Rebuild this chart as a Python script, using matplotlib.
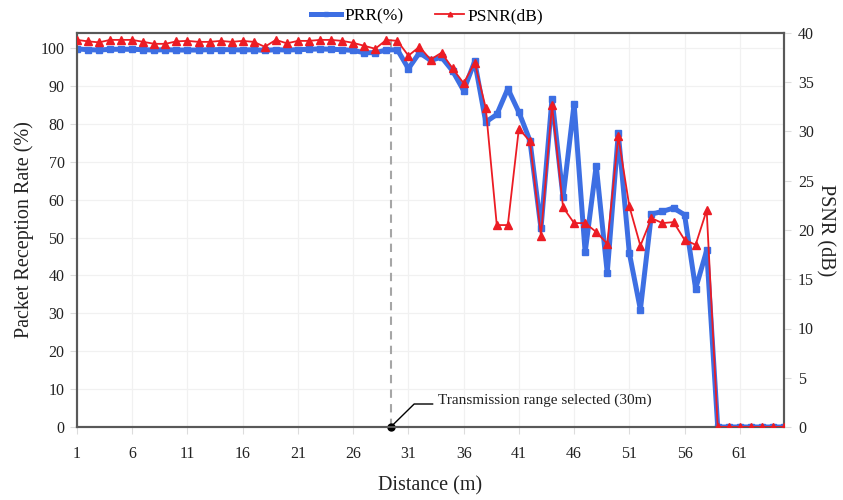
import matplotlib
matplotlib.use("Agg")
import matplotlib.pyplot as plt
import numpy as np

plt.rcParams['font.family'] = ['Liberation Serif', 'DejaVu Serif']

distance = list(range(1, 66))
prr = [99.8, 99.6, 99.5, 99.7, 99.7, 99.7, 99.6, 99.5, 99.6, 99.5,
       99.5, 99.5, 99.6, 99.6, 99.6, 99.5, 99.6, 99.4, 99.6, 99.5,
       99.6, 99.7, 99.8, 99.7, 99.6, 99.4, 98.8, 98.8, 99.5, 99.6,
       94.6, 98.8, 96.8, 97.6, 94.0, 88.8, 96.5, 80.5, 82.5, 89.3,
       83.1, 75.6, 52.4, 86.7, 60.6, 85.3, 46.1, 69.0, 40.7, 77.5,
       45.9, 31.0, 56.2, 56.9, 57.8, 56.0, 36.5, 46.6, 0, 0,
       0, 0, 0, 0, 0]
psnr = [39.3, 39.15, 39.05, 39.3, 39.3, 39.3, 39.1, 38.9, 38.9, 39.15,
        39.2, 39.1, 39.1, 39.2, 39.1, 39.2, 39.1, 38.6, 39.3, 38.95,
        39.2, 39.2, 39.3, 39.3, 39.2, 39.0, 38.7, 38.4, 39.3, 39.2,
        37.7, 38.6, 37.3, 38.0, 36.4, 34.9, 37.0, 32.4, 20.5, 20.5,
        30.3, 29.0, 19.4, 32.7, 22.3, 20.7, 20.7, 19.8, 18.6, 29.5,
        22.4, 18.4, 21.2, 20.7, 20.8, 19.0, 18.5, 22.0, 0, 0,
        0, 0, 0, 0, 0]
x_ticks = list(range(1, 66, 5))
prr_ticks = list(range(0, 101, 10))
psnr_ticks = list(range(0, 41, 5))
selected_range = 29.4
annotation = "Transmission range selected (30m)"

blue = '#3d6fe3'
red = '#ec1c24'
spine_c = '#595959'
grid_c = '#f1f1f1'

fig = plt.figure(figsize=(8.43, 5.0), dpi=100)
ax = fig.add_axes([77/843, 1-427/500, (784-77)/843, (427-33)/500])
ax2 = ax.twinx()

ax.plot(distance, prr, color=blue, lw=3.6, marker='s', ms=4.8, label='PRR(%)',
        zorder=3, solid_joinstyle='round')
ax2.plot(distance, psnr, color=red, lw=1.3, marker='^', ms=5.5, label='PSNR(dB)',
         zorder=3)

ax.set_xlim(1, 65)
ax.set_ylim(0, 104)
ax2.set_ylim(0, 40)

ax.set_xticks(x_ticks)
ax.set_yticks(prr_ticks)
ax2.set_yticks(psnr_ticks)

ax.grid(True, color=grid_c, lw=0.9)
ax.set_axisbelow(True)

for a in (ax, ax2):
    for s in a.spines.values():
        s.set_color(spine_c)
        s.set_linewidth(1.5)

ax.tick_params(axis='both', labelsize=11.5, colors='#dcdcdc', labelcolor='#222222',
               length=5, width=0.8)
ax.tick_params(axis='x', pad=9)
ax.tick_params(axis='y', pad=4)
ax2.tick_params(axis='y', labelsize=11.5, colors='#dcdcdc', labelcolor='#222222',
                length=5, width=0.8, pad=5)

ax.set_xlabel('Distance (m)', fontsize=14.5, color='#222222', labelpad=10)
ax.set_ylabel('Packet Reception Rate (%)', fontsize=14.5, color='#222222', labelpad=5)
ax2.set_ylabel('PSNR (dB)', fontsize=14.5, color='#222222', rotation=270, labelpad=15)

# selected transmission range marker
ax.axvline(selected_range, color='#a6a6a6', lw=1.5, ls=(0, (4, 3)), zorder=2)
ax.plot([selected_range], [0], 'o', color='black', ms=5, zorder=5, clip_on=False)
ax.plot([selected_range, 31.52, 33.19], [0, 6.07, 6.07], color='black', lw=1.0,
        zorder=5)
ax.text(33.7, 7.0, annotation, fontsize=11, color='#222222', va='center', ha='left',
        zorder=6)

h1, l1 = ax.get_legend_handles_labels()
h2, l2 = ax2.get_legend_handles_labels()
fig.legend(h1 + h2, l1 + l2, loc='center', bbox_to_anchor=(0.507, 0.967), ncol=2,
           frameon=False, fontsize=12.5, handlelength=1.7, columnspacing=1.8,
           handletextpad=0.2, markerscale=0.6)

fig.savefig('out.png', dpi=100)
